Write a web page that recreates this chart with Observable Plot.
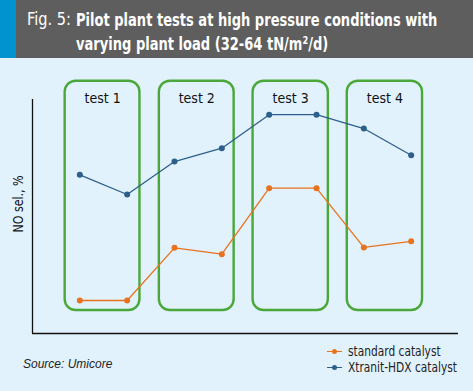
<!DOCTYPE html>
<html>
<head>
<meta charset="utf-8">
<script src="https://cdn.jsdelivr.net/npm/d3@7"></script>
<script src="https://cdn.jsdelivr.net/npm/@observablehq/plot@0.6"></script>
<style>
  html, body { margin: 0; padding: 0; }
  body { width: 473px; height: 391px; background: #e2f2fc; position: relative; overflow: hidden;
         font-family: "DejaVu Sans Condensed", "DejaVu Sans", sans-serif; font-stretch: condensed; }
  #header { position: absolute; left: 0; top: 0; width: 473px; height: 58px; background: #5e5e5e; }
  #strip { position: absolute; left: 0; top: 0; width: 16px; height: 58px; background: #0093cf; }
  #fig { position: absolute; left: 27px; top: 8px; color: #fff; font-size: 18px; white-space: nowrap; transform-origin: left top; }
  #title { position: absolute; left: 76px; top: 8px; color: #fff; font-size: 18px; font-weight: bold; line-height: 24px;
           white-space: nowrap; transform-origin: left top; }
  #chart { position: absolute; left: 0; top: 58px; }
  #ylabel { position: absolute; left: 18px; top: 204px; width: 0; height: 0; }
  #yl { position: absolute; left: 0; top: 0; font-size: 14px; color: #111; white-space: nowrap; display: inline-block; }
  #source { position: absolute; left: 23px; top: 357px; font-family: "Liberation Sans", Arial, sans-serif;
            font-style: italic; font-size: 12px; color: #222; }
  #legend { position: absolute; left: 327px; top: 343px; font-size: 14px; color: #222; line-height: 16px; white-space: nowrap; }
  .row { display: flex; align-items: center; }
  .key { position: relative; width: 15px; height: 16px; margin-right: 6px; flex: none; }
  .key .ln { position: absolute; left: 0; top: 7.5px; width: 15px; height: 1.3px; }
  .key .dt { position: absolute; left: 5px; top: 5.5px; width: 5px; height: 5px; border-radius: 50%; }
  .lt { display: inline-block; transform-origin: left center; }
</style>
</head>
<body>
<div id="header"><div id="strip"></div><div id="fig">Fig. 5:</div><div id="title"><span id="t1" style="display:inline-block">Pilot plant tests at high pressure conditions with</span><br><span>varying plant load (32-64 tN/m²/d)</span></div></div>
<div id="chart"></div>
<div id="ylabel"><span id="yl">NO sel., %</span></div>
<div id="source">Source: Umicore</div>
<div id="legend"></div>
<script>
const points = [0, 1, 2, 3, 4, 5, 6, 7];
const standard = [14.1, 14.1, 36.6, 33.9, 62.1, 62.1, 36.8, 39.4];
const xtranit = [67.8, 59.4, 73.5, 79.2, 93.5, 93.5, 87.6, 76.2];
const testNames = ["test 1", "test 2", "test 3", "test 4"];
const testStart = [-0.31, 1.68, 3.66, 5.65];
const testEnd = [1.27, 3.26, 5.25, 7.24];
const seriesNames = ["standard catalyst", "Xtranit-HDX catalyst"];
const seriesColors = ["#e8731f", "#2c5f8c"];

const rows = [];
points.forEach((p, i) => {
  rows.push({x: p, y: standard[i], s: seriesNames[0]});
  rows.push({x: p, y: xtranit[i], s: seriesNames[1]});
});
const tests = testNames.map((n, i) => ({name: n, x1: testStart[i], x2: testEnd[i], mid: (testStart[i] + testEnd[i]) / 2}));

const chart = Plot.plot({
  width: 473,
  height: 290,
  marginLeft: 32,
  marginRight: 15,
  marginTop: 41,
  marginBottom: 15,
  style: {background: "transparent", fontFamily: "'DejaVu Sans Condensed', 'DejaVu Sans', sans-serif"},
  x: {domain: [-1, 8], axis: null},
  y: {domain: [0, 100], axis: null},
  color: {domain: seriesNames, range: seriesColors},
  marks: [
    Plot.rect(tests, {x1: "x1", x2: "x2", y1: 9.8, y2: 107.8, rx: 11, fill: "none", stroke: "#4aa83a", strokeWidth: 2.4}),
    Plot.text(tests, {x: "mid", y: 100.6, text: "name", fontSize: 14, fill: "#111"}),
    Plot.ruleX([-1], {stroke: "#111", strokeWidth: 1.3}),
    Plot.ruleY([0], {stroke: "#111", strokeWidth: 1.3}),
    Plot.line(rows, {x: "x", y: "y", z: "s", stroke: "s", strokeWidth: 1.3}),
    Plot.dot(rows, {x: "x", y: "y", fill: "s", r: 3})
  ]
});
document.getElementById("chart").appendChild(chart);

const legend = document.getElementById("legend");
seriesNames.forEach((n, i) => {
  const row = document.createElement("div");
  row.className = "row";
  row.innerHTML = `<span class="key"><span class="ln" style="background:${seriesColors[i]}"></span><span class="dt" style="background:${seriesColors[i]}"></span></span><span class="lt">${n}</span>`;
  legend.appendChild(row);
});

// condense text horizontally to match the narrow typeface of the original
const t1w = document.getElementById("t1").offsetWidth;
document.getElementById("title").style.transform = `scaleX(${361 / t1w})`;
const fig = document.getElementById("fig");
fig.style.transform = `scaleX(${44 / fig.offsetWidth})`;
const yl = document.getElementById("yl");
const ylw = yl.offsetWidth, ylh = yl.offsetHeight;
yl.style.transformOrigin = "0 0";
yl.style.transform = `rotate(-90deg) translate(${-28.5}px, ${-ylh / 2}px) scaleX(${57 / ylw})`;
const lts = legend.querySelectorAll(".lt");
const wl = lts[1].offsetWidth;
lts.forEach(el => { el.style.transform = `scaleX(${109 / wl})`; });
</script>
</body>
</html>
